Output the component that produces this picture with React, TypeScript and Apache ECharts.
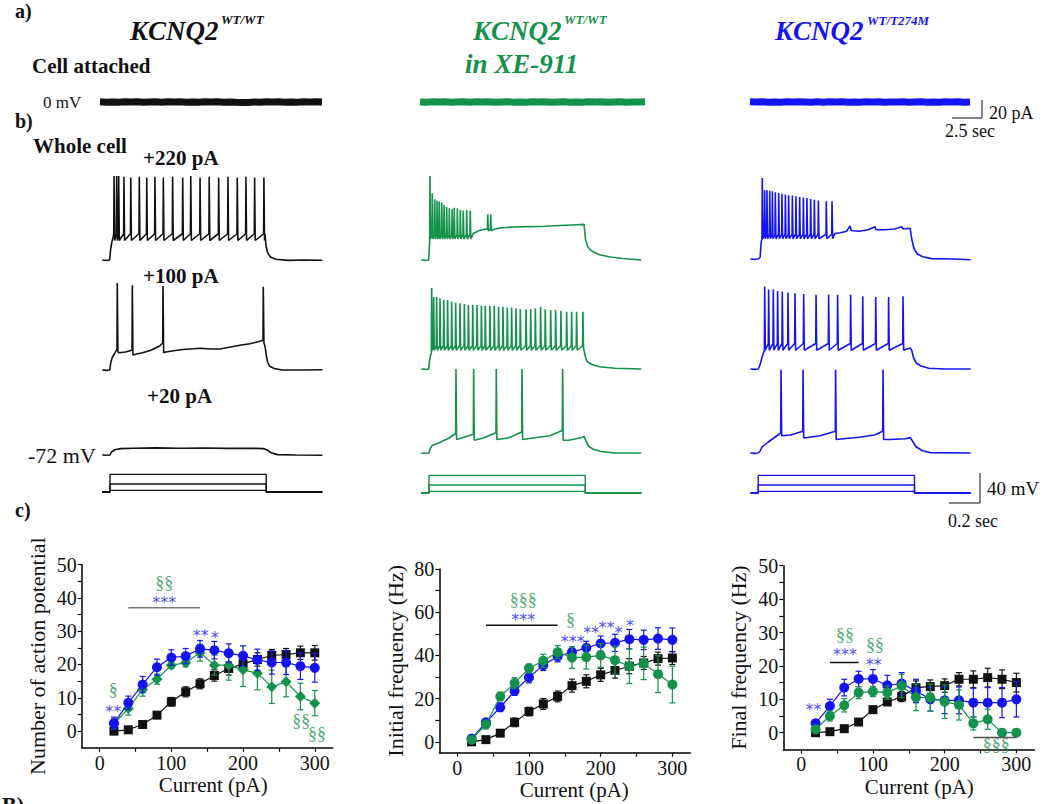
import React, { useEffect, useRef } from 'react';
import * as echarts from 'echarts';

const C_BLACK = '#111111';
const C_GREEN = '#14914a';
const C_BLUE = '#1414f0';
const SERIF = 'Liberation Serif';
const SANS = 'DejaVu Sans';

// ---------------- c) summary data ----------------
const currents = [20, 40, 60, 80, 100, 120, 140, 160, 180, 200, 220, 240, 260, 280, 300];
const xTicks = [0, 50, 100, 150, 200, 250, 300];
const xLabels = [0, 100, 200, 300];

const apWT = [0, 0.4, 2, 4.8, 8.8, 11.8, 14.2, 16.7, 18.8, 20.2, 21.5, 22.7, 23, 23.5, 23.5];
const apWTErr = [0.5, 0.5, 0.5, 1, 1.3, 1.5, 1.5, 1.7, 2, 2, 2, 1.8, 1.8, 2, 2.2];
const apXE = [2.2, 6.8, 12.5, 15.6, 19.8, 20.5, 23.5, 19.8, 19.8, 18.4, 17.4, 13.3, 14.8, 10.4, 8.4];
const apXEErr = [1.5, 2, 2, 1.5, 1, 1.2, 2.5, 3, 4.5, 5, 5, 5, 4.5, 4, 3.8];
const apMut = [2.4, 8.5, 14, 19.2, 22.1, 22.5, 24.7, 24.3, 23.4, 22.6, 21.4, 20.6, 20.6, 19.5, 19];
const apMutErr = [1.8, 2, 2.4, 2.4, 2.3, 2.3, 2.5, 2.6, 2.8, 3, 3.2, 3.5, 3.6, 4, 4.3];

const fiWT = [0, 1, 4, 9, 14, 17.5, 21, 26, 28, 31, 33, 35, 36.5, 38.5, 38.8];
const fiWTErr = [0.5, 1, 1, 2, 2, 2.5, 2.5, 3, 3, 3, 3.5, 3.5, 3, 3, 3];
const fiXE = [1, 8, 21, 27.2, 34, 37.5, 41.5, 39, 39.2, 40, 37.8, 35, 36.3, 31.3, 26.5];
const fiXEErr = [1, 2, 2, 2.5, 2, 3, 3, 5, 5.5, 5.5, 6.5, 8, 7.5, 8.5, 8.5];
const fiMut = [1.5, 9, 16, 23.5, 29.8, 35.5, 39.5, 41.5, 43.5, 45.5, 45.8, 47.5, 47.2, 47.8, 47.2];
const fiMutErr = [1, 1.5, 2, 2, 2.5, 2.5, 2.5, 2.5, 3, 3.5, 4, 4.5, 4.5, 5, 5.5];

const ffWT = [0, 0.3, 1.2, 3.2, 6.9, 9.2, 10.8, 13.5, 13.8, 14.1, 16, 16, 16.5, 16, 15];
const ffWTErr = [0.5, 0.5, 0.5, 1, 1, 1, 1.5, 2, 2, 2, 2, 2.5, 2.8, 2.8, 2.8];
const ffXE = [1, 5, 8.2, 12, 12.3, 12, 14, 10.6, 10.5, 9.3, 8.3, 2.8, 4, 0, 0];
const ffXEErr = [0.5, 1.5, 2, 1.8, 1.5, 2, 3.5, 4, 4, 5, 4.5, 2, 3, 0.3, 0.3];
const ffMut = [2.8, 8, 13.5, 16.1, 16.1, 14.2, 14.7, 12.5, 10, 9.7, 9.7, 9, 9, 9, 10];
const ffMutErr = [1, 2, 2.5, 2.3, 2.8, 3, 3.3, 3.5, 3.5, 4, 4, 4.3, 4.5, 4.5, 5.3];

// significance annotations [x, y, text]
const ann1Blue: any[] = [[90, 38.6, '***'], [19, 6.0, '**'], [141, 28.8, '**'], [161, 28.1, '*']];
const ann1Green: any[] = [[90, 44.3, '§§'], [19, 12.3, '§'], [281, 3.1, '§§'], [303, -0.9, '§§']];
const sig1 = [[40, 37], [140, 37]];
const ann2Blue: any[] = [[92, 56.6, '***'], [161, 46.6, '***'], [187, 50.6, '**'], [208, 53, '**'], [225, 50.8, '*'], [241, 54, '*']];
const ann2Green: any[] = [[92, 65.6, '§§§'], [158, 56.5, '§']];
const sig2 = [[40, 54], [140, 54]];
const ann3Blue: any[] = [[61, 23.3, '***'], [101, 20.3, '**'], [17, 7, '**']];
const ann3Green: any[] = [[61, 29.2, '§§'], [103, 26.2, '§§'], [272, -3.6, '§§§']];
const sig3a = [[40, 21], [80, 21]];
const sig3b = [[240, -1.4], [300, -1.4]];

// ---------------- a) cell attached (pA vs ms) ----------------
const cellTimes = [0, 500, 1000, 1500, 2000, 2500, 3000, 3500, 4000, 4500, 5000, 5500, 6000, 6500, 7000, 7500, 8000, 8500, 9000, 9500, 10000, 10500, 11000, 11500, 12000, 12500, 13000, 13500, 14000, 14500, 15000, 15500, 16000, 16500, 17000, 17500, 18000];
const cellWT = [0.2, -0.3, 0.1, -0.2, 0.3, -0.1, 0.2, -0.3, 0.1, 0.2, -0.2, 0.3, -0.1, 0.2, -0.3, 0.1, -0.2, 0.2, -0.1, 0.3, -0.2, 0.1, -0.3, -0.6, -0.5, 0.1, -0.2, 0.2, -0.1, 0.3, -0.2, 0.1, -0.3, 0.2, -0.1, 0.2, -0.1];
const cellXE = [0.1, -0.2, 0.3, -0.1, 0.2, -0.3, 0.1, 0.2, -0.2, 0.3, -0.1, 0.2, -0.2, 0.1, 0.3, -0.2, 0.1, -0.3, 0.2, -0.1, 0.3, -0.2, 0.1, 0.2, -0.3, 0.1, -0.2, 0.3, -0.1, 0.2, -0.2, 0.1, 0.3, -0.2, 0.1, -0.1, 0.2];
const cellMut = [0.2, -0.1, 0.3, -0.2, 0.1, -0.3, 0.2, -0.1, 0.3, 0.1, -0.2, 0.2, -0.3, 0.4, -0.1, 0.2, -0.2, 0.1, -0.3, 0.2, -0.1, 0.3, -0.2, 0.1, -0.1, 0.2, -0.3, 0.1, 0.2, -0.2, 0.1, -0.3, 0.2, -0.1, 0.3, -0.2, 0.1];

// ---------------- b) whole cell traces (ms, mV) ----------------
// spikes: [t, peak] (uses trace threshold / AHP) or [t, pre, peak, post]
const wt220Env = [[0, -72], [25, -72.6], [48, -72], [54, -58], [62, -48], [70, -42], [1050, -37], [1056, -52], [1066, -62], [1085, -68], [1120, -71], [1200, -72.5], [1300, -72], [1420, -72.4]];
const wt220Spikes = [[76, 40], [93, 40], [106, 40], [140, 39], [184, 38], [239, 39], [287, 38], [340, 39], [394, 38], [454, 39], [519, 38], [571, 40], [631, 38], [690, 39], [751, 38], [811, 39], [871, 38], [927, 39], [983, 38], [1043, 38]];
const wt100Env = [[0, -72], [30, -72.5], [48, -72], [55, -62], [65, -55], [80, -50], [90, -46], [110, -49], [150, -48], [185, -46], [215, -51], [260, -49], [310, -46], [370, -40], [410, -48], [503, -45], [630, -43], [700, -44], [759, -44], [888, -39], [953, -37], [1030, -33], [1050, -40], [1058, -52], [1066, -61], [1080, -67], [1110, -70], [1160, -72], [1300, -72], [1420, -71.6]];
const wt100Spikes = [[97, -44, 44, -48], [194, -45, 41, -52], [392, -36, 40, -49], [1039, -32, 39, -36]];
const wt20Env = [[0, -72], [30, -72.4], [50, -72], [60, -68], [80, -65], [120, -63.5], [200, -63], [350, -62.5], [500, -63], [650, -62.6], [800, -63.2], [950, -63], [1040, -63.5], [1060, -65], [1090, -69], [1130, -71.5], [1250, -72], [1420, -72.3]];

const xe220Env = [[0, -72], [30, -72.5], [48, -72], [52, -55], [335, -37], [370, -33], [410, -31], [470, -31], [520, -29], [600, -28], [700, -27.5], [800, -27], [900, -26], [1000, -25], [1050, -24.5], [1060, -45], [1075, -55], [1100, -60], [1150, -65], [1220, -68], [1300, -70], [1420, -72]];
const xe220Spikes = [[56, -50, 40, -44], [71, 17], [87, 9], [102, 7], [116, 6], [132, 4.5], [147, 1.3], [164, -1], [181, -3], [199, -4.4], [213, -2.2], [233, -3], [252, -5.3], [271, -6], [293, -5.3], [316, -6], [429, -31, -11, -33], [448, -31, -11, -33]];
const xe100Env = [[0, -72], [30, -72.5], [48, -72], [53, -62], [60, -53], [1050, -46], [1058, -55], [1070, -62], [1100, -66], [1150, -69], [1250, -71], [1420, -72]];
const xe100Spikes = [[67, -52, 36, -47], [80, 24], [99, 24], [121, 22], [145, 20], [170, 20], [196, 18], [222, 16.5], [250, 15.6], [278, 14.7], [304, 13.3], [332, 13.3], [360, 13.3], [388, 12.4], [413, 12.4], [443, 12.4], [471, 12.4], [499, 11], [527, 11], [555, 10], [583, 10], [611, 9], [639, 7.5], [676, 7.5], [706, 7.5], [736, 9], [770, 11], [800, 7.5], [835, 6.7], [867, 6.7], [901, 5.8], [938, 4.4], [970, 4.4], [1002, 4.4], [1043, 4.4]];
const xe20Env = [[0, -72], [30, -72.5], [50, -72], [58, -66], [70, -62], [120, -58], [180, -52], [260, -52], [400, -52], [560, -52], [720, -52], [830, -49], [950, -55], [1000, -53], [1040, -51], [1052, -50], [1062, -56], [1080, -63], [1110, -67], [1160, -70], [1250, -72], [1420, -72]];
const xe20Spikes = [[224, -46, 40, -54], [338, -47, 40, -55], [484, -45, 40, -54], [650, -44, 40, -54], [912, -42, 40, -55]];

const mut220Env = [[0, -72], [30, -72.5], [50, -72], [62, -70], [68, -52], [72, -46], [545, -38], [580, -37], [620, -35], [642, -28], [650, -34], [700, -35], [760, -33], [803, -29], [810, -33], [870, -33], [930, -32], [975, -29], [985, -32], [1030, -31], [1040, -45], [1055, -58], [1075, -65], [1110, -69], [1170, -71.5], [1300, -72], [1420, -73]];
const mut220Spikes = [[76, -47, 36, -45], [91, 20], [106, 19.5], [124, 19], [141, 18.2], [160, 17], [182, 16], [203, 15], [225, 14], [246, 13], [270, 12.5], [293, 11.5], [317, 10.5], [341, 10], [364, 9.3], [388, 8], [412, 7], [438, 6], [489, 5], [526, 5]];
const mut100Env = [[0, -72], [30, -72.5], [50, -72], [62, -66], [75, -56], [86, -49], [1000, -46], [1030, -44], [1040, -47], [1052, -57], [1070, -64], [1100, -68], [1150, -71], [1250, -72], [1420, -72]];
const mut100Spikes = [[91.5, -48, 38, -47], [117, 34], [147, 34], [175, 32], [205, 31], [242, 30], [287, 29], [343, 28], [423, 27], [504, 27], [562, 27], [646, 27], [724, 25], [808, 24], [891, 24], [984, 25]];
const mut20Env = [[0, -72], [30, -72.5], [50, -72], [60, -70], [75, -64], [110, -58], [150, -52], [185, -47], [260, -48], [450, -49], [700, -51], [800, -48], [900, -54], [1000, -53], [1030, -51.5], [1045, -56], [1070, -64], [1110, -69], [1160, -71.5], [1420, -72]];
const mut20Spikes = [[197, -45, 39, -49], [339, -43, 39, -52], [549, -43, 39, -54], [855, -43, 39, -54]];

// command steps (pA)
const cmdLevels = [20, 100, 220];
const cmdTimes = [0, 50, 1058, 1420];

function buildTrace(env: number[][], spikes: number[][], thr: number, ahp: number) {
  const pts: number[][] = env.map((p) => [p[0], p[1]]);
  spikes.forEach((s) => {
    const t = s[0];
    const pre = s.length === 4 ? s[1] : thr;
    const peak = s.length === 4 ? s[2] : s[1];
    const post = s.length === 4 ? s[3] : ahp;
    pts.push([t - 2, pre], [t, peak], [t + 4, post]);
  });
  pts.sort((a, b) => a[0] - b[0]);
  return pts;
}

function cmdData(level: number) {
  const [t0, on, off, end] = cmdTimes;
  return [[t0, 0], [on, 0], [on, level], [off, level], [off, 0], [end, 0]];
}

function buildOption() {
  const grid: any[] = [];
  const xAxis: any[] = [];
  const yAxis: any[] = [];
  const series: any[] = [];

  function addPanel(left: number, top: number, width: number, height: number, xmin: number, xmax: number, ymin: number, ymax: number) {
    grid.push({ left, top, width, height, containLabel: false });
    const i = grid.length - 1;
    xAxis.push({ type: 'value', gridIndex: i, min: xmin, max: xmax, show: false });
    yAxis.push({ type: 'value', gridIndex: i, min: ymin, max: ymax, show: false });
    return i;
  }
  const traceLine = (i: number, data: any[], color: string, width = 1.5) => ({
    type: 'line', xAxisIndex: i, yAxisIndex: i, data, showSymbol: false, symbol: 'none',
    lineStyle: { color, width }, silent: true, clip: false, z: 2,
  });

  // cell attached
  const cellCols = [
    { left: 100, width: 222, vals: cellWT, color: C_BLACK },
    { left: 420, width: 225, vals: cellXE, color: C_GREEN },
    { left: 750, width: 220, vals: cellMut, color: C_BLUE },
  ];
  cellCols.forEach((c) => {
    const i = addPanel(c.left, 86, c.width, 32, 0, 18000, -20, 20);
    series.push(traceLine(i, cellTimes.map((t, k) => [t, c.vals[k]]), c.color, 7));
  });

  // whole cell
  const MS_PER_PX = 1000 / 155;
  const MV_PER_PX = 40 / 30;
  const W = 1420 / MS_PER_PX;
  const H = 130 / MV_PER_PX;
  const cols = [
    { left: 102.25, color: C_BLACK, base: [260, 370, 455], cmdBase: 492,
      traces: [buildTrace(wt220Env, wt220Spikes, -37, -46), buildTrace(wt100Env, wt100Spikes, -40, -48), buildTrace(wt20Env, [], -60, -60)] },
    { left: 421.25, color: C_GREEN, base: [260, 369, 453], cmdBase: 493,
      traces: [buildTrace(xe220Env, xe220Spikes, -38, -44), buildTrace(xe100Env, xe100Spikes, -41, -47), buildTrace(xe20Env, xe20Spikes, -45, -54)] },
    { left: 750.5, color: C_BLUE, base: [259, 369, 453], cmdBase: 493,
      traces: [buildTrace(mut220Env, mut220Spikes, -39, -45), buildTrace(mut100Env, mut100Spikes, -38, -47), buildTrace(mut20Env, mut20Spikes, -43, -52)] },
  ];
  cols.forEach((c) => {
    c.traces.forEach((tr, k) => {
      const top = c.base[k] - (50 + 72) / MV_PER_PX;
      const i = addPanel(c.left, top, W, H, 0, 1420, -80, 50);
      series.push(traceLine(i, tr, c.color, 1.6));
    });
    const cmdH = 240 * 0.08;
    const ci = addPanel(c.left, c.cmdBase - cmdH, W, cmdH, 0, 1420, 0, 240);
    cmdLevels.forEach((L) => series.push(traceLine(ci, cmdData(L), c.color, 1.4)));
  });

  // summary charts
  const axisColor = '#000';
  function addChart(left: number, top: number, width: number, height: number, ymax: number, yTicks: number[], yLabels: number[], yName: string, yGap: number, xPad: number) {
    grid.push({ left, top, width, height, containLabel: false });
    const i = grid.length - 1;
    xAxis.push({
      type: 'value', gridIndex: i, min: -25, max: 325,
      name: 'Current (pA)', nameLocation: 'middle', nameGap: 27,
      nameTextStyle: { fontFamily: SERIF, fontSize: 21, color: '#111', padding: [0, 0, 0, xPad] },
      axisLine: { show: true, onZero: false, lineStyle: { color: axisColor, width: 1.5 } },
      axisTick: { show: true, inside: false, length: 4, customValues: xTicks, lineStyle: { color: axisColor, width: 1.2 } },
      axisLabel: { show: true, customValues: xLabels, fontFamily: SERIF, fontSize: 20, color: '#111', margin: 5 },
      splitLine: { show: false },
    });
    yAxis.push({
      type: 'value', gridIndex: i, min: -5, max: ymax,
      name: yName, nameLocation: 'middle', nameGap: yGap, nameRotate: 90,
      nameTextStyle: { fontFamily: SERIF, fontSize: 22, color: '#111' },
      axisLine: { show: true, onZero: false, lineStyle: { color: axisColor, width: 1.5 } },
      axisTick: { show: true, inside: false, length: 4, customValues: yTicks, lineStyle: { color: axisColor, width: 1.2 } },
      axisLabel: { show: true, customValues: yLabels, fontFamily: SERIF, fontSize: 20, color: '#111', margin: 5 },
      splitLine: { show: false },
    });
    return i;
  }

  function dataSeries(i: number, ys: number[], errs: number[], color: string, symbol: string, size: number, z: number) {
    return [
      {
        type: 'custom', xAxisIndex: i, yAxisIndex: i, z, silent: true,
        data: currents.map((x, k) => [x, ys[k] - errs[k], ys[k] + errs[k]]),
        encode: { x: 0, y: [1, 2] },
        renderItem: (_p: any, api: any) => {
          const lo = api.coord([api.value(0), api.value(1)]);
          const hi = api.coord([api.value(0), api.value(2)]);
          const w = 3;
          const st = { stroke: color, lineWidth: 1.2 };
          return {
            type: 'group',
            children: [
              { type: 'line', shape: { x1: hi[0], y1: hi[1], x2: lo[0], y2: lo[1] }, style: st },
              { type: 'line', shape: { x1: hi[0] - w, y1: hi[1], x2: hi[0] + w, y2: hi[1] }, style: st },
              { type: 'line', shape: { x1: lo[0] - w, y1: lo[1], x2: lo[0] + w, y2: lo[1] }, style: st },
            ],
          };
        },
      },
      {
        type: 'line', xAxisIndex: i, yAxisIndex: i, z: z + 0.5, silent: true,
        data: currents.map((x, k) => [x, ys[k]]),
        symbol, symbolSize: size, showSymbol: true, showAllSymbol: true,
        itemStyle: { color }, lineStyle: { color, width: 1.2 },
      },
    ];
  }

  function annSeries(i: number, arr: any[], color: string, font: string, size: number, offsetY: number, lineHeight: number) {
    return {
      type: 'scatter', xAxisIndex: i, yAxisIndex: i, z: 20, silent: true, symbolSize: 1,
      itemStyle: { color: 'rgba(0,0,0,0)' },
      data: arr.map((a) => ({ value: [a[0], a[1]], name: a[2] })),
      labelLayout: { hideOverlap: false },
      label: { show: true, position: 'inside', formatter: '{b}', color, fontFamily: font, fontSize: size, lineHeight, offset: [0, offsetY] },
    };
  }
  function sigLine(i: number, data: number[][], color: string) {
    return { type: 'line', xAxisIndex: i, yAxisIndex: i, data, symbol: 'none', silent: true, lineStyle: { color, width: 1.5 }, z: 15 };
  }

  const t5 = [0, 5, 10, 15, 20, 25, 30, 35, 40, 45, 50];
  const l10 = [0, 10, 20, 30, 40, 50];

  const c1 = addChart(81.7, 564.5, 251, 183.3, 50, t5, l10, 'Number of action potential', 33, 12);
  series.push(...dataSeries(c1, apWT, apWTErr, C_BLACK, 'rect', 9, 3));
  series.push(...dataSeries(c1, apXE, apXEErr, C_GREEN, 'diamond', 11, 4));
  series.push(...dataSeries(c1, apMut, apMutErr, C_BLUE, 'circle', 10, 5));
  series.push(sigLine(c1, sig1, '#777'));
  series.push(annSeries(c1, ann1Blue, C_BLUE, SANS, 16, 4, 12));
  series.push(annSeries(c1, ann1Green, C_GREEN, SERIF, 18, 0, 16));

  const c2 = addChart(439.3, 569, 251, 183.6, 80, [0, 10, 20, 30, 40, 50, 60, 70, 80], [0, 20, 40, 60, 80], 'Initial frequency (Hz)', 33, 19);
  series.push(...dataSeries(c2, fiWT, fiWTErr, C_BLACK, 'rect', 9, 3));
  series.push(...dataSeries(c2, fiMut, fiMutErr, C_BLUE, 'circle', 10, 4));
  series.push(...dataSeries(c2, fiXE, fiXEErr, C_GREEN, 'circle', 10, 5));
  series.push(sigLine(c2, sig2, '#111'));
  series.push(annSeries(c2, ann2Blue, C_BLUE, SANS, 16, 4, 12));
  series.push(annSeries(c2, ann2Green, C_GREEN, SERIF, 18, 0, 16));

  const c3 = addChart(783.3, 565.7, 251, 183.7, 50, t5, l10, 'Final frequency (Hz)', 34, 21);
  series.push(...dataSeries(c3, ffWT, ffWTErr, C_BLACK, 'rect', 9, 3));
  series.push(...dataSeries(c3, ffMut, ffMutErr, C_BLUE, 'circle', 10, 4));
  series.push(...dataSeries(c3, ffXE, ffXEErr, C_GREEN, 'circle', 10, 5));
  series.push(sigLine(c3, sig3a, '#111'));
  series.push(sigLine(c3, sig3b, '#555'));
  series.push(annSeries(c3, ann3Blue, C_BLUE, SANS, 16, 4, 12));
  series.push(annSeries(c3, ann3Green, C_GREEN, SERIF, 18, 0, 16));

  // texts & scale bars
  const txt = (x: number, y: number, text: string, size: number, color = '#111', bold = false, italic = false) => ({
    type: 'text', x, y, silent: true,
    style: {
      text, fill: color,
      fontFamily: SERIF, fontSize: size,
      fontWeight: bold ? 'bold' : 'normal',
      fontStyle: italic ? 'italic' : 'normal',
      textAlign: 'left', textVerticalAlign: 'middle',
    },
  });
  const bar = (x1: number, y1: number, x2: number, y2: number) => ({
    type: 'line', silent: true, shape: { x1, y1, x2, y2 }, style: { stroke: '#333', lineWidth: 1.2 },
  });
  const elements: any[] = [
    txt(15, 11, 'a)', 20, '#111', true),
    txt(130, 31, 'KCNQ2', 27, '#111', true, true),
    txt(221, 19, 'WT/WT', 13, '#111', true, true),
    txt(473, 31, 'KCNQ2', 27, C_GREEN, true, true),
    txt(564, 19, 'WT/WT', 13, C_GREEN, true, true),
    txt(465, 64, 'in XE-911', 27, C_GREEN, true, true),
    txt(775, 31, 'KCNQ2', 27, C_BLUE, true, true),
    txt(867, 20, 'WT/T274M', 13, C_BLUE, true, true),
    txt(32, 66, 'Cell attached', 21, '#111', true),
    txt(43, 102, '0 mV', 17),
    txt(15, 121, 'b)', 20, '#111', true),
    txt(33, 146, 'Whole cell', 21, '#111', true),
    txt(143, 158, '+220 pA', 21, '#111', true),
    txt(143, 276, '+100 pA', 21, '#111', true),
    txt(147, 396, '+20 pA', 21, '#111', true),
    txt(28, 455, '-72 mV', 22),
    txt(15, 510, 'c)', 20, '#111', true),
    txt(2, 804, 'B)', 22, '#111', true),
    bar(982, 100, 982, 118), bar(952, 118, 982, 118),
    txt(989, 113, '20 pA', 18),
    txt(945, 131, '2.5 sec', 18),
    bar(980, 473, 980, 503), bar(949, 503, 980, 503),
    txt(987, 488, '40 mV', 19),
    txt(948, 521, '0.2 sec', 18),
  ];

  return {
    animation: false,
    backgroundColor: '#fff',
    grid, xAxis, yAxis, series,
    graphic: { elements },
  };
}

export default function App() {
  const ref = useRef<HTMLDivElement>(null);
  useEffect(() => {
    const chart = echarts.init(ref.current!, null, { renderer: 'svg' });
    chart.setOption(buildOption() as any);
    return () => chart.dispose();
  }, []);
  return <div ref={ref} style={{ position: 'absolute', left: 0, top: 0, width: 1043, height: 804, background: '#fff' }} />;
}
